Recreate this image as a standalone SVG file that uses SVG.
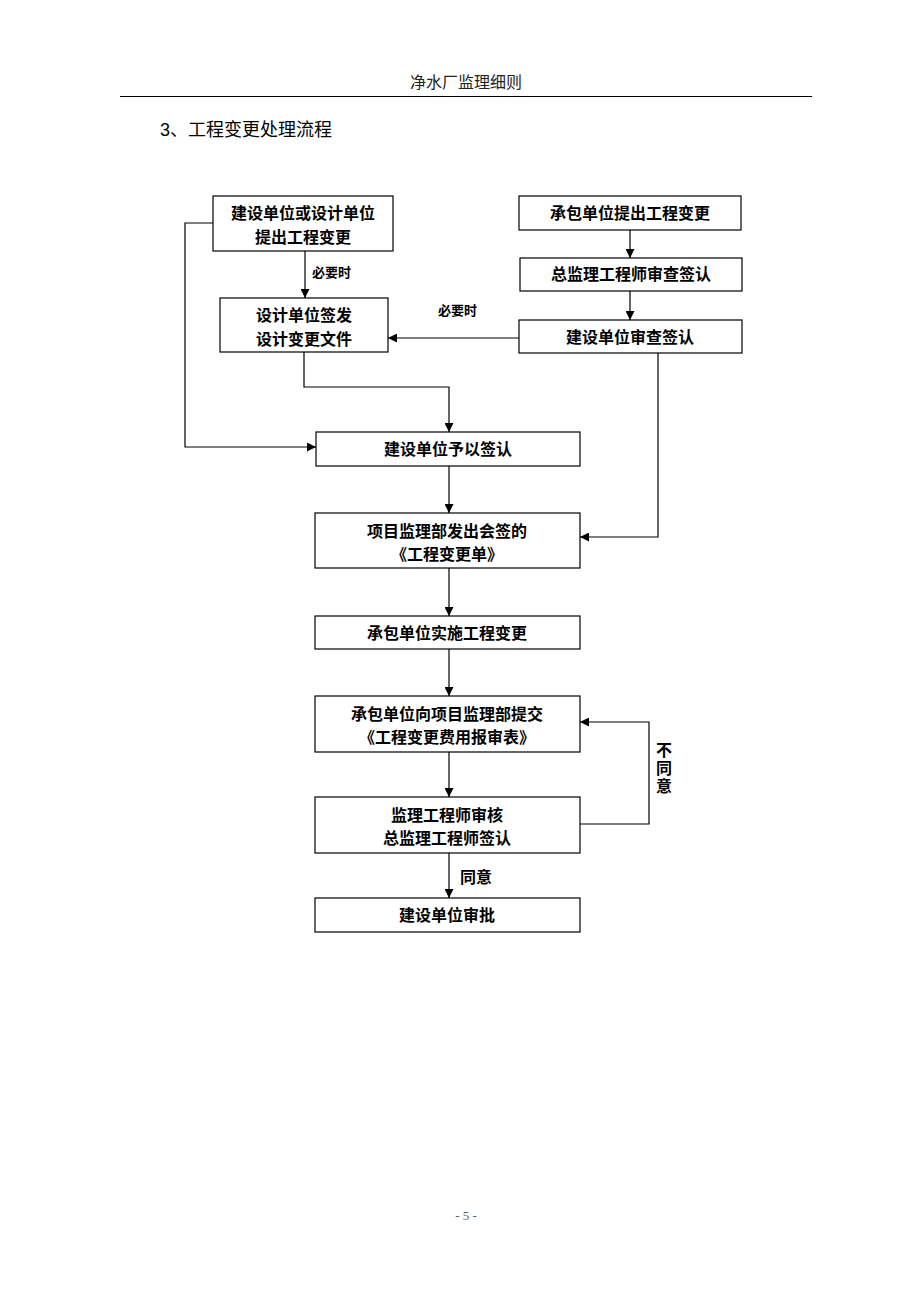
<svg xmlns="http://www.w3.org/2000/svg" width="920" height="1302" viewBox="0 0 920 1302">
<defs>
<marker id="arr" viewBox="0 0 10 10" refX="10" refY="5" markerWidth="9" markerHeight="9" markerUnits="userSpaceOnUse" orient="auto">
<path d="M0,0 L10,5 L0,10 z" fill="#000"/>
</marker>
<style>
.box{fill:#fff;stroke:#000;stroke-width:1.2}
.t{font-family:"Noto Sans CJK SC","Noto Sans",sans-serif;font-size:16px;font-weight:bold;fill:#000;text-anchor:middle}
.s{font-family:"Noto Sans CJK SC","Noto Sans",sans-serif;font-size:13px;font-weight:bold;fill:#000}
.l{font-family:"Noto Sans CJK SC","Noto Sans",sans-serif;font-size:16px;font-weight:bold;fill:#000}
.c{fill:none;stroke:#000;stroke-width:1.2;marker-end:url(#arr)}
</style>
</defs>
<rect width="920" height="1302" fill="#fff"/>
<text x="466" y="88" font-family="'Noto Sans CJK SC',sans-serif" font-size="16" text-anchor="middle" fill="#222">净水厂监理细则</text>
<line x1="120" y1="96.5" x2="812" y2="96.5" stroke="#000" stroke-width="1.2"/>
<text x="160" y="136" font-family="'Liberation Sans','Noto Sans CJK SC',sans-serif" font-size="18" fill="#000">3<tspan font-family="'Noto Sans CJK SC',sans-serif">、工程变更处理流程</tspan></text>

<g id="n1"><rect class="box" x="213" y="196" width="180" height="55"/><text class="t" x="303" y="219">建设单位或设计单位</text><text class="t" x="303" y="243">提出工程变更</text></g>
<g id="n2"><rect class="box" x="519" y="196" width="222" height="34"/><text class="t" x="630" y="219">承包单位提出工程变更</text></g>
<g id="n3"><rect class="box" x="520" y="258" width="222" height="33"/><text class="t" x="631" y="280">总监理工程师审查签认</text></g>
<g id="n4"><rect class="box" x="220" y="298" width="168" height="54"/><text class="t" x="304" y="321">设计单位签发</text><text class="t" x="304" y="345">设计变更文件</text></g>
<g id="n5"><rect class="box" x="519" y="320" width="223" height="33"/><text class="t" x="630" y="343">建设单位审查签认</text></g>
<g id="n6"><rect class="box" x="316" y="432" width="264" height="34"/><text class="t" x="448" y="455">建设单位予以签认</text></g>
<g id="n7"><rect class="box" x="315" y="513" width="265" height="55"/><text class="t" x="447" y="537">项目监理部发出会签的</text><text class="t" x="447" y="560">《工程变更单》</text></g>
<g id="n8"><rect class="box" x="315" y="616" width="265" height="33"/><text class="t" x="447" y="639">承包单位实施工程变更</text></g>
<g id="n9"><rect class="box" x="315" y="696" width="265" height="56"/><text class="t" x="447" y="720">承包单位向项目监理部提交</text><text class="t" x="447" y="743">《工程变更费用报审表》</text></g>
<g id="n10"><rect class="box" x="315" y="797" width="265" height="56"/><text class="t" x="447" y="821">监理工程师审核</text><text class="t" x="447" y="844">总监理工程师签认</text></g>
<g id="n11"><rect class="box" x="315" y="898" width="265" height="34"/><text class="t" x="447" y="921">建设单位审批</text></g>

<g id="connectors">
<path class="c" d="M305,251 V298"/>
<path class="c" d="M213,223 H185 V447 H316"/>
<path class="c" d="M304,352 V387 H449 V432"/>
<path class="c" d="M630,230 V258"/>
<path class="c" d="M630,291 V320"/>
<path class="c" d="M519,338 H388"/>
<path class="c" d="M658,353 V537 H580"/>
<path class="c" d="M449,466 V513"/>
<path class="c" d="M449,568 V616"/>
<path class="c" d="M449,649 V696"/>
<path class="c" d="M449,752 V797"/>
<path class="c" d="M580,824 H649 V722 H580"/>
<path class="c" d="M449,853 V898"/>
<text class="s" x="312" y="277">必要时</text>
<text class="s" x="438" y="315">必要时</text>
<text class="l" x="460" y="883">同意</text>
<text class="l" x="664" y="742" writing-mode="vertical-rl" letter-spacing="2">不同意</text>
</g>
<text x="466" y="1220" font-family="'Liberation Serif',serif" font-size="13" text-anchor="middle" fill="#666">- 5 -</text>
</svg>
